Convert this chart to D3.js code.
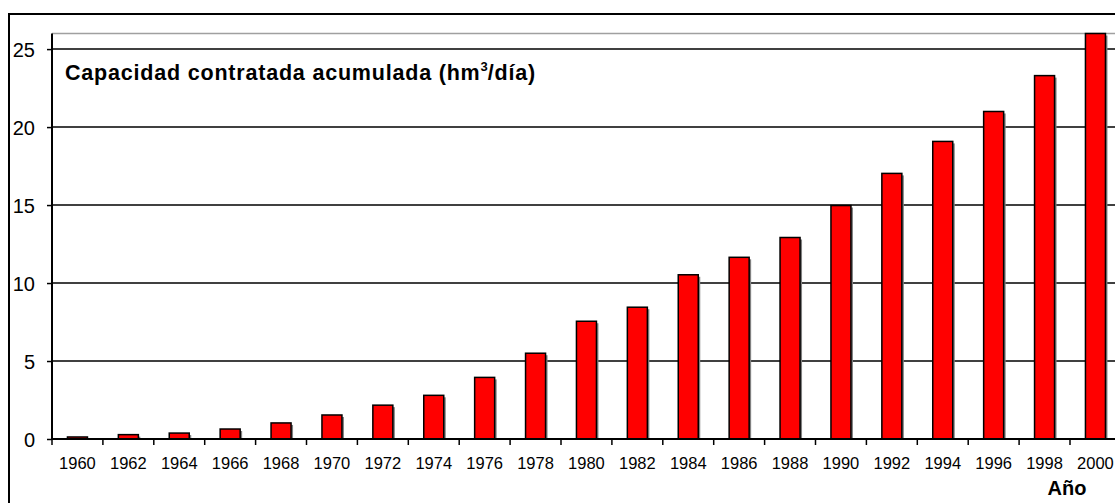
<!DOCTYPE html>
<html>
<head>
<meta charset="utf-8">
<script src="https://cdn.jsdelivr.net/npm/d3@7"></script>
<style>
    html, body { margin: 0; padding: 0; background: #fff; }
    svg { display: block; font-family: "Liberation Sans", Arial, sans-serif; }
</style>
</head>
<body>
<div id="chart"></div>
<script>
// data
var years = ["1960", "1962", "1964", "1966", "1968", "1970", "1972", "1974", "1976", "1978",
             "1980", "1982", "1984", "1986", "1988", "1990", "1992", "1994", "1996", "1998", "2000"];
var capacity = [0.13, 0.28, 0.38, 0.64, 1.03, 1.54, 2.17, 2.8, 3.95, 5.5,
                7.55, 8.45, 10.53, 11.65, 12.92, 14.97, 17.03, 19.08, 21.0, 23.3, 26.0];
var yTicks = [0, 5, 10, 15, 20, 25];
var yMax = 26;
var title = "Capacidad contratada acumulada (hm";
var xTitle = "Año";

var width = 1115, height = 503;
var margin = { top: 33.5, left: 52, bottom: 64, right: 0 };
var step = 50.9;
var plotW = step * years.length;
var zeroY = height - margin.bottom;

var svg = d3.select("#chart").append("svg")
    .attr("width", width)
    .attr("height", height);

// outer chart border (runs off the right and bottom edge)
svg.append("rect")
    .attr("x", 9).attr("y", 14)
    .attr("width", width + 20).attr("height", height + 20)
    .attr("fill", "none")
    .attr("stroke", "#000")
    .attr("stroke-width", 2);

var x = d3.scaleBand()
    .domain(years)
    .range([margin.left, margin.left + plotW])
    .paddingInner(0.607)
    .paddingOuter(0.3035);

var y = d3.scaleLinear()
    .domain([0, yMax])
    .range([zeroY, margin.top]);

// plot area top edge
svg.append("line")
    .attr("x1", margin.left).attr("x2", width)
    .attr("y1", y(yMax)).attr("y2", y(yMax))
    .attr("stroke", "#a0a0a0")
    .attr("stroke-width", 1.5);

// gridlines
svg.append("g")
    .selectAll("line")
    .data(yTicks.filter(function (d) { return d > 0; }))
    .enter().append("line")
    .attr("x1", margin.left).attr("x2", width)
    .attr("y1", function (d) { return y(d); })
    .attr("y2", function (d) { return y(d); })
    .attr("stroke", "#000")
    .attr("stroke-width", 1.5);

// bars with a small grey shadow
var bars = svg.append("g").selectAll("g")
    .data(capacity)
    .enter().append("g");

bars.append("rect")
    .attr("x", function (d, i) { return x(years[i]) + 2; })
    .attr("y", function (d) { return y(d) + 2; })
    .attr("width", x.bandwidth())
    .attr("height", function (d) { return Math.max(0, zeroY - y(d) - 2); })
    .attr("fill", "#808080");

bars.append("rect")
    .attr("x", function (d, i) { return x(years[i]); })
    .attr("y", function (d) { return y(d); })
    .attr("width", x.bandwidth())
    .attr("height", function (d) { return zeroY - y(d); })
    .attr("fill", "#ff0000")
    .attr("stroke", "#000")
    .attr("stroke-width", 1.5);

// y axis
var yAxis = svg.append("g")
    .attr("transform", "translate(" + margin.left + ",0)")
    .call(d3.axisLeft(y).tickValues(yTicks).tickSize(5).tickPadding(12).tickSizeOuter(0));
yAxis.select(".domain").remove();
yAxis.selectAll(".tick line").attr("stroke", "#000").attr("stroke-width", 1.5);
yAxis.selectAll(".tick text")
    .attr("fill", "#000")
    .style("font-size", "20px")
    .attr("dy", "0.36em");
svg.append("line")
    .attr("x1", margin.left).attr("x2", margin.left)
    .attr("y1", y(yMax)).attr("y2", zeroY + 1)
    .attr("stroke", "#000")
    .attr("stroke-width", 2);

// x axis: ticks sit between categories
var xAxis = svg.append("g")
    .attr("transform", "translate(0," + zeroY + ")")
    .call(d3.axisBottom(x).tickSize(0).tickPadding(18));
xAxis.select(".domain").remove();
xAxis.selectAll(".tick text")
    .attr("fill", "#000")
    .style("font-size", "16.5px");

svg.append("g")
    .selectAll("line")
    .data(years)
    .enter().append("line")
    .attr("x1", function (d) { return x(d) - x.step() * x.paddingInner() / 2; })
    .attr("x2", function (d) { return x(d) - x.step() * x.paddingInner() / 2; })
    .attr("y1", zeroY).attr("y2", zeroY + 6)
    .attr("stroke", "#000")
    .attr("stroke-width", 1.5);

svg.append("line")
    .attr("x1", margin.left - 1).attr("x2", width)
    .attr("y1", zeroY).attr("y2", zeroY)
    .attr("stroke", "#000")
    .attr("stroke-width", 2);

// titles
var t = svg.append("text")
    .attr("x", 65).attr("y", 80)
    .style("font-size", "21.5px")
    .style("font-weight", "bold")
    .style("letter-spacing", "0.8px")
    .text(title);
t.append("tspan")
    .attr("dy", -9)
    .style("font-size", "13px")
    .style("letter-spacing", "0px")
    .text("3");
t.append("tspan")
    .attr("dy", 9)
    .text("/día)");

svg.append("text")
    .attr("x", 1067).attr("y", 495)
    .attr("text-anchor", "middle")
    .style("font-size", "20px")
    .style("font-weight", "bold")
    .text(xTitle);
</script>
</body>
</html>
